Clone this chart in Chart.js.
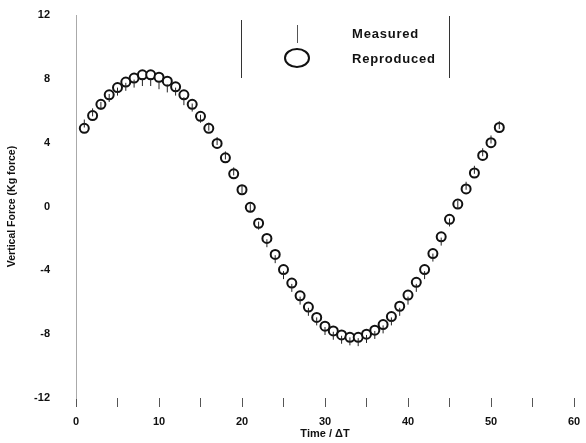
<!DOCTYPE html>
<html><head><meta charset="utf-8">
<script src="https://cdn.jsdelivr.net/npm/chart.js@4/dist/chart.umd.min.js"></script>
<style>html,body{margin:0;padding:0;background:#fff}#wrap{width:586px;height:443px}</style>
</head><body><div id="wrap"><canvas id="c" width="586" height="443"></canvas></div>
<script>
const timeSteps = [1,2,3,4,5,6,7,8,9,10,11,12,13,14,15,16,17,18,19,20,21,22,23,24,25,26,27,28,29,30,31,32,33,34,35,36,37,38,39,40,41,42,43,44,45,46,47,48,49,50,51];
const reproduced = [4.9,5.7,6.4,7.0,7.45,7.8,8.05,8.25,8.25,8.1,7.85,7.5,7.0,6.4,5.65,4.9,3.95,3.05,2.05,1.05,-0.05,-1.05,-2.0,-3.0,-3.95,-4.8,-5.6,-6.3,-6.95,-7.5,-7.8,-8.05,-8.2,-8.2,-8.0,-7.75,-7.4,-6.9,-6.25,-5.55,-4.75,-3.95,-2.95,-1.9,-0.8,0.15,1.1,2.1,3.2,4.0,4.95];
const measured = [5.2,5.9,6.3,6.8,7.2,7.5,7.7,7.8,7.8,7.6,7.4,7.2,6.6,6.2,5.5,5.0,4.1,3.2,2.2,1.1,-0.1,-1.2,-2.3,-3.3,-4.3,-5.1,-5.9,-6.6,-7.2,-7.8,-8.1,-8.35,-8.45,-8.5,-8.3,-8.05,-7.7,-7.2,-6.6,-5.9,-5.1,-4.3,-3.2,-2.2,-1.0,0.1,1.3,2.3,3.4,4.2,5.1];
const xRange = [0, 60];
const yRange = [-12, 12];
const xLabelStep = 10;
const yLabelStep = 4;
const seriesNames = ['Measured', 'Reproduced'];
const xTitle = 'Time / \u0394T';
const yTitle = 'Vertical Force (Kg force)';

const FONT = '"Liberation Sans", Arial, sans-serif';

const legendPlugin = {
  id: 'boxLegend',
  afterDraw(chart) {
    const ctx = chart.ctx;
    ctx.save();
    ctx.strokeStyle = '#333';
    ctx.lineWidth = 1;
    ctx.beginPath();
    ctx.moveTo(241.5, 20); ctx.lineTo(241.5, 78);
    ctx.moveTo(449.5, 16); ctx.lineTo(449.5, 78);
    ctx.stroke();
    ctx.strokeStyle = '#555';
    ctx.beginPath();
    ctx.moveTo(297.5, 25); ctx.lineTo(297.5, 43);
    ctx.stroke();
    ctx.lineWidth = 2;
    ctx.strokeStyle = '#111';
    ctx.beginPath();
    ctx.ellipse(297, 58, 12, 9, 0, 0, Math.PI * 2);
    ctx.stroke();
    ctx.fillStyle = '#111';
    ctx.font = 'bold 13px ' + FONT;
    ctx.textBaseline = 'middle';
    ctx.textAlign = 'left';
    if ('letterSpacing' in ctx) ctx.letterSpacing = '0.8px';
    ctx.fillText(seriesNames[0], 352, 34);
    ctx.fillText(seriesNames[1], 352, 59);
    ctx.restore();
  }
};

new Chart(document.getElementById('c'), {
  type: 'scatter',
  data: {
    datasets: [
      {
        label: seriesNames[0],
        data: timeSteps.map((t, i) => ({x: t, y: measured[i]})),
        pointStyle: 'line',
        rotation: 90,
        radius: 4,
        borderWidth: 1,
        borderColor: '#222',
        backgroundColor: '#222'
      },
      {
        label: seriesNames[1],
        data: timeSteps.map((t, i) => ({x: t, y: reproduced[i]})),
        pointStyle: 'circle',
        radius: 4.5,
        borderWidth: 2,
        borderColor: '#111',
        backgroundColor: '#fff'
      }
    ]
  },
  options: {
    responsive: false,
    animation: false,
    devicePixelRatio: 1,
    layout: {padding: {left: 4, top: 15, right: 12, bottom: 0}},
    plugins: {legend: {display: false}, tooltip: {enabled: false}},
    scales: {
      x: {
        type: 'linear',
        min: xRange[0], max: xRange[1],
        afterFit(s) { s.height = 45; s.paddingLeft = 0; s.paddingRight = 0; },
        border: {display: false},
        grid: {drawOnChartArea: false, drawTicks: true, tickLength: 9, color: '#555', lineWidth: 1},
        ticks: {
          stepSize: 5,
          padding: 8,
          color: '#111',
          font: {family: FONT, size: 11, weight: 'bold'},
          maxRotation: 0,
          callback: v => (v % xLabelStep === 0 ? String(v) : '')
        },
        title: {display: true, text: xTitle, color: '#111', font: {family: FONT, size: 11, weight: 'bold'}, padding: {top: 0, bottom: 2}}
      },
      y: {
        type: 'linear',
        min: yRange[0], max: yRange[1],
        afterFit(s) { s.width = 72; s.paddingTop = 0; s.paddingBottom = 0; },
        border: {display: true, color: '#aaa', width: 1, dash: [1, 3]},
        grid: {display: true, drawOnChartArea: false, drawTicks: false},
        ticks: {
          stepSize: yLabelStep,
          padding: 26,
          color: '#111',
          font: {family: FONT, size: 11, weight: 'bold'}
        },
        title: {display: true, text: yTitle, color: '#111', font: {family: FONT, size: 10.5, weight: 'bold'}, padding: {top: 2, bottom: 0}}
      }
    }
  },
  plugins: [legendPlugin]
});
</script>
</body></html>
